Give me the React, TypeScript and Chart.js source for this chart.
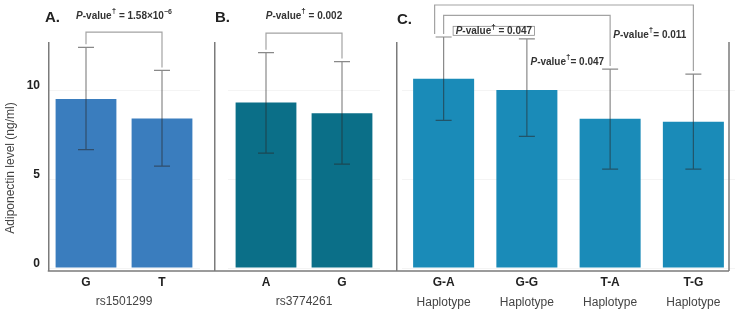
import React, { useEffect, useRef } from 'react';
import { Chart, registerables } from 'chart.js';

Chart.register(...registerables);

const FONT = '"Liberation Sans", Arial, Helvetica, sans-serif';

// ---------- data ----------
const yTitle = 'Adiponectin level (ng/ml)';
const yTicks = [0, 5, 10];
const Y_MAX = 12.7;

const snpALabels = ['G', 'T'];
const snpAMeans = [9.5, 8.4];
const snpALow = [6.65, 5.73];
const snpAHigh = [12.4, 11.1];
const snpAName = 'rs1501299';
const snpAP = '1.58×10';
const snpAPExp = '−6';

const snpBLabels = ['A', 'G'];
const snpBMeans = [9.3, 8.7];
const snpBLow = [6.46, 5.84];
const snpBHigh = [12.1, 11.6];
const snpBName = 'rs3774261';
const snpBP = '0.002';

const hapLabels = ['G-A', 'G-G', 'T-A', 'T-G'];
const hapSub = ['Haplotype', 'Haplotype', 'Haplotype', 'Haplotype'];
const hapMeans = [10.64, 10.0, 8.39, 8.22];
const hapLow = [8.3, 7.4, 5.56, 5.56];
const hapHigh = [12.98, 12.87, 11.18, 10.9];
const hapP = ['0.047', '0.047', '0.011'];

// ---------- drawing helpers ----------
type Bracket = { a: number; b: number; level: number; aDx?: number; bDx?: number };
type PLabel = {
  p: string; sup?: string; tight?: boolean; boxed?: boolean;
  anchor: 'mid' | number; a?: number; b?: number; dx?: number;
  align: 'left' | 'right' | 'center'; level: number;
};

function drawP(ctx: CanvasRenderingContext2D, l: PLabel, x: number, y: number) {
  const b10 = `bold 10px ${FONT}`;
  const segs: { t: string; f: string; dy: number }[] = [
    { t: 'P', f: `italic bold 10px ${FONT}`, dy: 0 },
    { t: '-value', f: b10, dy: 0 },
    { t: '†', f: `bold 8px ${FONT}`, dy: -5 },
    { t: l.tight ? '= ' : ' = ', f: b10, dy: 0 },
    { t: l.p, f: b10, dy: 0 },
  ];
  if (l.sup) segs.push({ t: l.sup, f: `bold 7px ${FONT}`, dy: -4 });
  let total = 0;
  const widths = segs.map((s) => {
    ctx.font = s.f;
    const w = ctx.measureText(s.t).width;
    total += w;
    return w;
  });
  let sx = l.align === 'left' ? x : l.align === 'right' ? x - total : x - total / 2;
  if (l.boxed) {
    ctx.strokeStyle = '#8a8a8a';
    ctx.lineWidth = 0.8;
    ctx.strokeRect(sx - 2.5, y - 5, total + 5, 9);
  }
  ctx.fillStyle = '#333';
  ctx.textBaseline = 'middle';
  ctx.textAlign = 'left';
  segs.forEach((s, i) => {
    ctx.font = s.f;
    ctx.fillText(s.t, sx, y + s.dy);
    sx += widths[i];
  });
}

const decoPlugin = {
  id: 'panelDeco',
  afterDatasetsDraw(chart: any, _args: any, opts: any) {
    const { ctx, chartArea, scales } = chart;
    const y = scales.y;
    const meta = chart.getDatasetMeta(0);
    const xs: number[] = meta.data.map((el: any) => el.x);
    const low: number[] = opts.low;
    const high: number[] = opts.high;
    ctx.save();

    // frame
    const bottomY = chartArea.bottom + 3;
    ctx.strokeStyle = '#7b7b7b';
    ctx.lineWidth = 1.5;
    ctx.beginPath();
    ctx.moveTo(opts.frameLeft, chartArea.top);
    ctx.lineTo(opts.frameLeft, bottomY);
    if (opts.frameRight != null) {
      ctx.moveTo(opts.frameRight, chartArea.top);
      ctx.lineTo(opts.frameRight, bottomY);
    }
    ctx.moveTo(opts.frameLeft - 1, bottomY);
    ctx.lineTo(opts.frameRight != null ? opts.frameRight : chart.width, bottomY);
    ctx.stroke();

    // error bars
    ctx.strokeStyle = 'rgba(40,40,40,0.55)';
    ctx.lineWidth = 1.2;
    ctx.beginPath();
    xs.forEach((x, i) => {
      const yl = y.getPixelForValue(low[i]);
      const yh = y.getPixelForValue(high[i]);
      ctx.moveTo(x, yl);
      ctx.lineTo(x, yh);
      ctx.moveTo(x - 8, yl);
      ctx.lineTo(x + 8, yl);
      ctx.moveTo(x - 8, yh);
      ctx.lineTo(x + 8, yh);
    });
    ctx.stroke();

    // brackets
    ctx.strokeStyle = '#a3a3a3';
    ctx.lineWidth = 1.2;
    ctx.beginPath();
    (opts.brackets as Bracket[]).forEach((br) => {
      const xa = xs[br.a] + (br.aDx || 0);
      const xb = xs[br.b] + (br.bDx || 0);
      const yt = y.getPixelForValue(br.level);
      ctx.moveTo(xa, y.getPixelForValue(high[br.a]) - 3);
      ctx.lineTo(xa, yt);
      ctx.lineTo(xb, yt);
      ctx.lineTo(xb, y.getPixelForValue(high[br.b]) - 3);
    });
    ctx.stroke();

    // p-value labels
    (opts.labels as PLabel[]).forEach((l) => {
      const x = l.anchor === 'mid'
        ? (xs[l.a as number] + xs[l.b as number]) / 2
        : xs[l.anchor] + (l.dx || 0);
      drawP(ctx, l, x, y.getPixelForValue(l.level));
    });

    // panel letter
    ctx.fillStyle = '#222';
    ctx.font = `bold 15px ${FONT}`;
    ctx.textBaseline = 'middle';
    ctx.textAlign = 'left';
    ctx.fillText(opts.letter, opts.letterX, opts.letterY);

    // y axis title
    if (opts.yTitle) {
      ctx.save();
      ctx.translate(11, 168);
      ctx.rotate(-Math.PI / 2);
      ctx.font = `12px ${FONT}`;
      ctx.fillStyle = '#444';
      ctx.textAlign = 'center';
      ctx.textBaseline = 'middle';
      ctx.fillText(opts.yTitle, 0, 0);
      ctx.restore();
    }
    ctx.restore();
  },
};

type PanelCfg = {
  width: number; labels: string[]; sub?: string[]; xTitle?: string;
  means: number[]; low: number[]; high: number[]; color: string;
  showY: boolean; padL: number; padR: number; barPct: number;
  frameLeft: number; frameRight?: number; letter: string; letterX: number; letterY: number;
  brackets: Bracket[]; pLabels: PLabel[];
};

function Panel({ cfg }: { cfg: PanelCfg }) {
  const ref = useRef<HTMLCanvasElement>(null);
  useEffect(() => {
    if (!ref.current) return;
    const scales: any = {
      x: {
        type: 'category',
        position: 'bottom',
        weight: 0,
        offset: true,
        grid: { display: false, drawTicks: false },
        border: { display: false },
        ticks: {
          font: { family: FONT, size: 12, weight: 'bold' },
          color: '#222', padding: 7, maxRotation: 0, autoSkip: false,
        },
        title: cfg.xTitle
          ? { display: true, text: cfg.xTitle, font: { family: FONT, size: 12 }, color: '#444', padding: { top: 0, bottom: 4 } }
          : { display: false },
        afterFit: (s: any) => { s.height = cfg.sub ? 22 : 45; },
      },
      y: {
        type: 'linear',
        min: 0,
        max: Y_MAX,
        afterBuildTicks: (s: any) => { s.ticks = yTicks.map((v) => ({ value: v })); },
        ticks: {
          display: cfg.showY,
          font: { family: FONT, size: 12, weight: 'bold' },
          color: '#222', padding: 8, labelOffset: -4,
        },
        grid: { color: 'rgba(0,0,0,0.045)', drawTicks: false },
        border: { display: false },
        afterFit: (s: any) => { s.width = cfg.showY ? 48 : 0; },
      },
    };
    if (cfg.sub) {
      scales.x2 = {
        type: 'category',
        labels: cfg.sub,
        position: 'bottom',
        weight: 1,
        offset: true,
        grid: { display: false, drawTicks: false },
        border: { display: false },
        ticks: { font: { family: FONT, size: 12 }, color: '#444', padding: 5, maxRotation: 0, autoSkip: false },
        afterFit: (s: any) => { s.height = 23; },
      };
    }
    const chart = new Chart(ref.current, {
      type: 'bar',
      data: {
        labels: cfg.labels,
        datasets: [{
          data: cfg.means,
          backgroundColor: cfg.color,
          borderWidth: 0,
          barPercentage: cfg.barPct,
          categoryPercentage: 1,
        }],
      },
      options: {
        responsive: false,
        animation: false,
        layout: { padding: { top: 42, bottom: 0, left: cfg.padL, right: cfg.padR } },
        scales,
        plugins: {
          legend: { display: false },
          tooltip: { enabled: false },
          panelDeco: {
            low: cfg.low, high: cfg.high,
            frameLeft: cfg.frameLeft, frameRight: cfg.frameRight,
            brackets: cfg.brackets, labels: cfg.pLabels,
            letter: cfg.letter, letterX: cfg.letterX, letterY: cfg.letterY,
            yTitle: cfg.showY ? yTitle : null,
          },
        } as any,
      },
      plugins: [decoPlugin],
    });
    return () => chart.destroy();
  }, [cfg]);
  return <canvas ref={ref} width={cfg.width} height={313} style={{ display: 'block', width: cfg.width, height: 313 }} />;
}

const panelA: PanelCfg = {
  width: 214, labels: snpALabels, xTitle: snpAName,
  means: snpAMeans, low: snpALow, high: snpAHigh, color: '#3a7dbe',
  showY: true, padL: 0, padR: 14, barPct: 0.8,
  frameLeft: 48.75, letter: 'A.', letterX: 45, letterY: 18,
  brackets: [{ a: 0, b: 1, level: 13.26 }],
  pLabels: [{ p: snpAP, sup: snpAPExp, anchor: 'mid', a: 0, b: 1, align: 'center', level: 14.16 }],
};

const panelB: PanelCfg = {
  width: 182, labels: snpBLabels, xTitle: snpBName,
  means: snpBMeans, low: snpBLow, high: snpBHigh, color: '#0b6f88',
  showY: false, padL: 14, padR: 16, barPct: 0.8,
  frameLeft: 0.75, letter: 'B.', letterX: 1, letterY: 18,
  brackets: [{ a: 0, b: 1, level: 13.2 }],
  pLabels: [{ p: snpBP, anchor: 'mid', a: 0, b: 1, align: 'center', level: 14.16 }],
};

const panelC: PanelCfg = {
  width: 340, labels: hapLabels, sub: hapSub,
  means: hapMeans, low: hapLow, high: hapHigh, color: '#1a8bb8',
  showY: false, padL: 6, padR: 1, barPct: 0.733,
  frameLeft: 0.75, frameRight: 333, letter: 'C.', letterX: 1, letterY: 19.5,
  brackets: [
    { a: 0, b: 3, level: 14.78, aDx: -9 },
    { a: 0, b: 2, level: 14.2 },
  ],
  pLabels: [
    { p: hapP[0], anchor: 0, dx: 12, align: 'left', level: 13.3, boxed: true },
    { p: hapP[1], anchor: 2, dx: -6, align: 'right', level: 11.57, tight: true },
    { p: hapP[2], anchor: 3, dx: -7, align: 'right', level: 13.09, tight: true },
  ],
};

export default function App() {
  return (
    <div style={{ position: 'absolute', left: 0, top: 0, width: 736, height: 313, background: '#fff', display: 'flex' }}>
      <Panel cfg={panelA} />
      <Panel cfg={panelB} />
      <Panel cfg={panelC} />
    </div>
  );
}
